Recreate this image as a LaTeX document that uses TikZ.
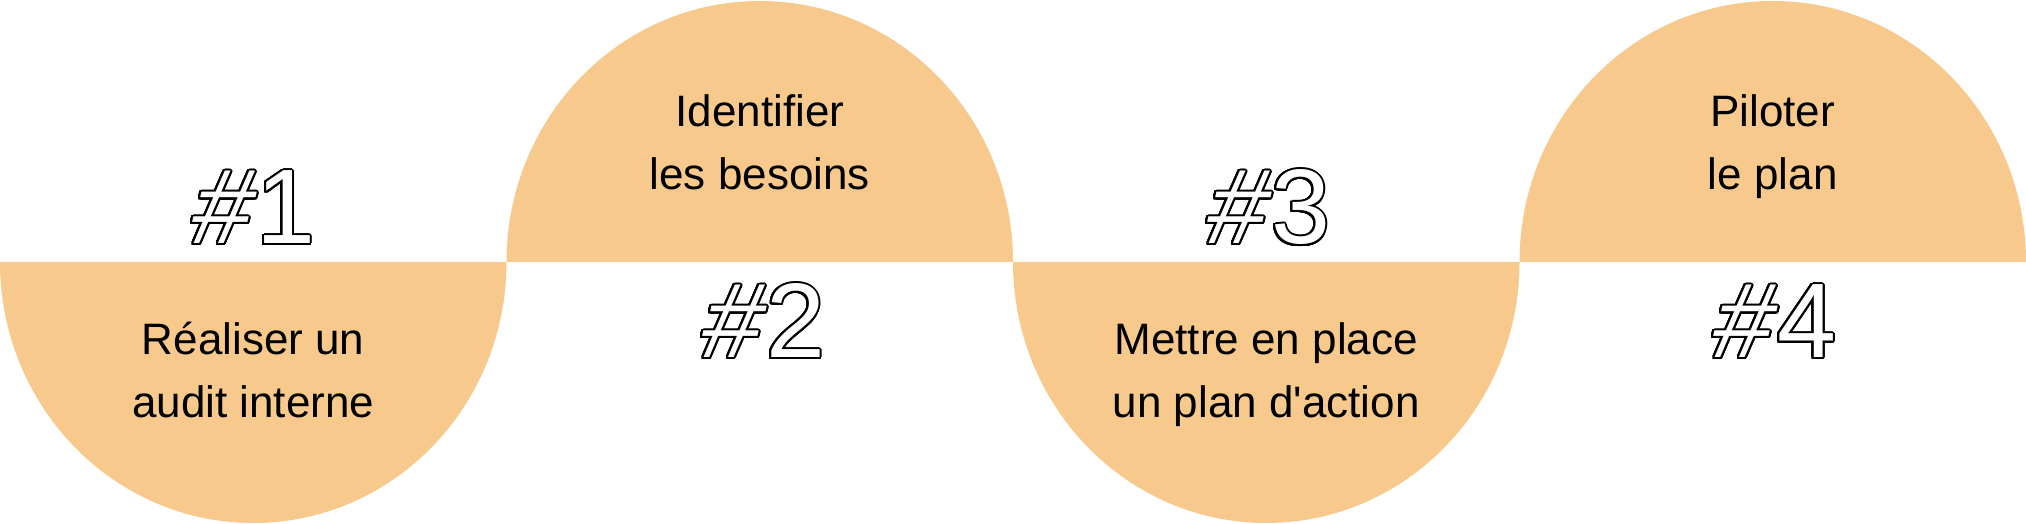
\documentclass[tikz,border=0pt]{standalone}
\usepackage{fontspec}
\setmainfont{Liberation Sans}
\newfontfamily\hashfont[FakeSlant=0.22]{Liberation Sans}
\newfontfamily\numfont{Liberation Sans}
\usepackage{contour}
\contournumber{48}
\contourlength{2pt}
\definecolor{halo}{HTML}{F7C98C}
\newcommand{\stepnum}[1]{\contour{black}{{\hashfont\#}\kern10pt{\numfont #1}}}
\newcommand{\straightquote}{\XeTeXglyph\XeTeXcharglyph"0027\relax}
\begin{document}
\begin{tikzpicture}[x=1pt,y=1pt,
  half/.style={fill=halo},
  lbl/.style={align=center,anchor=base,font=\fontsize{44}{63}\selectfont,text=black,inner sep=0pt},
  numlbl/.style={anchor=base,font=\fontsize{106}{106}\selectfont,text=white,inner sep=0pt}]
\useasboundingbox (0,0) rectangle (2026,524);
% half discs
\fill[half] (0,262) arc[start angle=180,end angle=360,x radius=253.25,y radius=261] -- cycle;
\fill[half] (506.5,262) arc[start angle=180,end angle=0,x radius=253.25,y radius=261] -- cycle;
\fill[half] (1013,262) arc[start angle=180,end angle=360,x radius=253.25,y radius=261] -- cycle;
\fill[half] (1519.5,262) arc[start angle=180,end angle=0,x radius=253.25,y radius=261] -- cycle;
% texts (anchor base = baseline of last line)
\node[lbl] (t1) at (253.25,106) {Réaliser un\\audit interne};
\node[lbl] (t2) at (759.75,334) {Identifier\\les besoins};
\node[lbl] (t3) at (1266.25,106) {Mettre en place\\un plan d\straightquote action};
\node[lbl] (t4) at (1772.75,334) {Piloter\\le plan};
% numbers
\node[numlbl] (n1) at (251,280) {\stepnum{1}};
\node[numlbl] (n2) at (761,166) {\stepnum{2}};
\node[numlbl] (n3) at (1266,280) {\stepnum{3}};
\node[numlbl] (n4) at (1772,166) {\stepnum{4}};
\end{tikzpicture}
\end{document}
